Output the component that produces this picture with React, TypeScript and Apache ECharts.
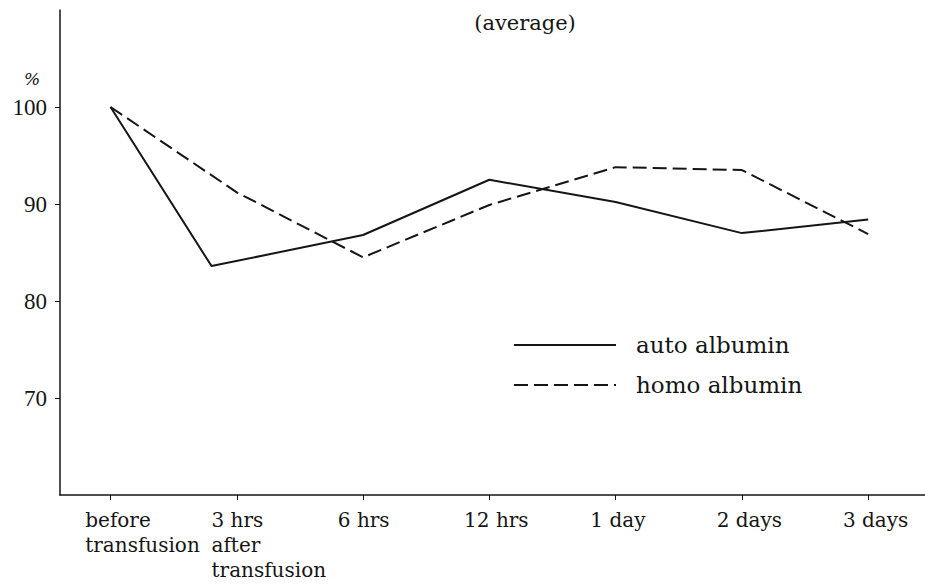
import { useEffect, useRef } from "react";
import * as echarts from "echarts";

// ---- data ----
const categories = [
  "before\ntransfusion",
  "3 hrs\nafter\ntransfusion",
  "6 hrs",
  "12 hrs",
  "1 day",
  "2 days",
  "3 days",
];
const tickPositions = [0, 1, 2, 3, 4, 5, 6];
const autoTime = [0, 0.8, 2, 3, 4, 5, 6];
const autoValues = [100, 83.6, 86.8, 92.5, 90.2, 87.0, 88.4];
const homoTime = [0, 1, 2, 3, 4, 5, 6];
const homoValues = [100, 91.2, 84.5, 89.9, 93.8, 93.5, 86.9];
const yTicks = [70, 80, 90, 100];
const seriesNames = ["auto albumin", "homo albumin"];
const titleText = "(average)";
const unitText = "%";

const INK = "#151515";
const LABEL_SHIFT = -0.2;

export default function App() {
  const ref = useRef<HTMLDivElement>(null);

  useEffect(() => {
    if (!ref.current) return;
    const chart = echarts.init(ref.current, null, { renderer: "svg" });
    const option: any = {
      animation: false,
      backgroundColor: "#ffffff",
      grid: { left: 60, right: 0, top: 10, bottom: 90, containLabel: false },
      xAxis: {
        type: "value",
        min: -0.4,
        max: 6.45,
        splitLine: { show: false },
        axisLine: { show: true, onZero: false, lineStyle: { color: INK, width: 1.5 } },
        axisTick: {
          show: true,
          length: 5,
          inside: false,
          customValues: tickPositions,
          lineStyle: { color: INK, width: 1 },
        },
        axisLabel: {
          show: true,
          customValues: tickPositions.map((t) => t + LABEL_SHIFT),
          formatter: (v: number) => categories[Math.round(v - LABEL_SHIFT)] ?? "",
          align: "left",
          margin: 12,
          color: INK,
          fontFamily: "DejaVu Serif",
          fontSize: 20,
          lineHeight: 25,
          verticalAlign: "top",
        },
      },
      yAxis: {
        type: "value",
        min: 60,
        max: 110,
        interval: 10,
        splitLine: { show: false },
        axisLine: { show: true, onZero: false, lineStyle: { color: INK, width: 1.5 } },
        axisTick: {
          show: true,
          length: 5,
          customValues: yTicks,
          lineStyle: { color: INK, width: 1 },
        },
        axisLabel: {
          show: true,
          customValues: yTicks,
          margin: 13,
          color: INK,
          fontFamily: "Liberation Serif",
          fontSize: 23,
        },
      },
      legend: {
        show: true,
        orient: "vertical",
        left: 513,
        top: 332,
        itemWidth: 102,
        itemHeight: 14,
        itemGap: 14,
        padding: 0,
        data: seriesNames,
        itemStyle: { color: "rgba(0,0,0,0)", borderWidth: 0, opacity: 0 },
        textStyle: {
          color: INK,
          fontFamily: "DejaVu Serif",
          fontSize: 23,
          lineHeight: 26,
          padding: [0, 0, 0, 15],
        },
      },
      graphic: [
        {
          type: "text",
          x: 525,
          y: 23,
          style: {
            text: titleText,
            align: "center",
            verticalAlign: "middle",
            fill: INK,
            font: "21px 'DejaVu Serif'",
          },
        },
        {
          type: "text",
          x: 32,
          y: 79,
          style: {
            text: unitText,
            align: "center",
            verticalAlign: "middle",
            fill: INK,
            font: "italic 17px 'DejaVu Serif'",
          },
        },
      ],
      series: [
        {
          name: seriesNames[0],
          type: "line",
          symbol: "none",
          data: autoTime.map((t, i) => [t, autoValues[i]]),
          lineStyle: { color: INK, width: 2, type: "solid" },
          itemStyle: { color: INK },
        },
        {
          name: seriesNames[1],
          type: "line",
          symbol: "none",
          data: homoTime.map((t, i) => [t, homoValues[i]]),
          lineStyle: { color: INK, width: 2, type: [14, 6] },
          itemStyle: { color: INK },
        },
      ],
    };
    chart.setOption(option);
    return () => chart.dispose();
  }, []);

  return (
    <div
      ref={ref}
      style={{ position: "fixed", left: 0, top: 0, width: 925, height: 585, background: "#fff" }}
    />
  );
}
